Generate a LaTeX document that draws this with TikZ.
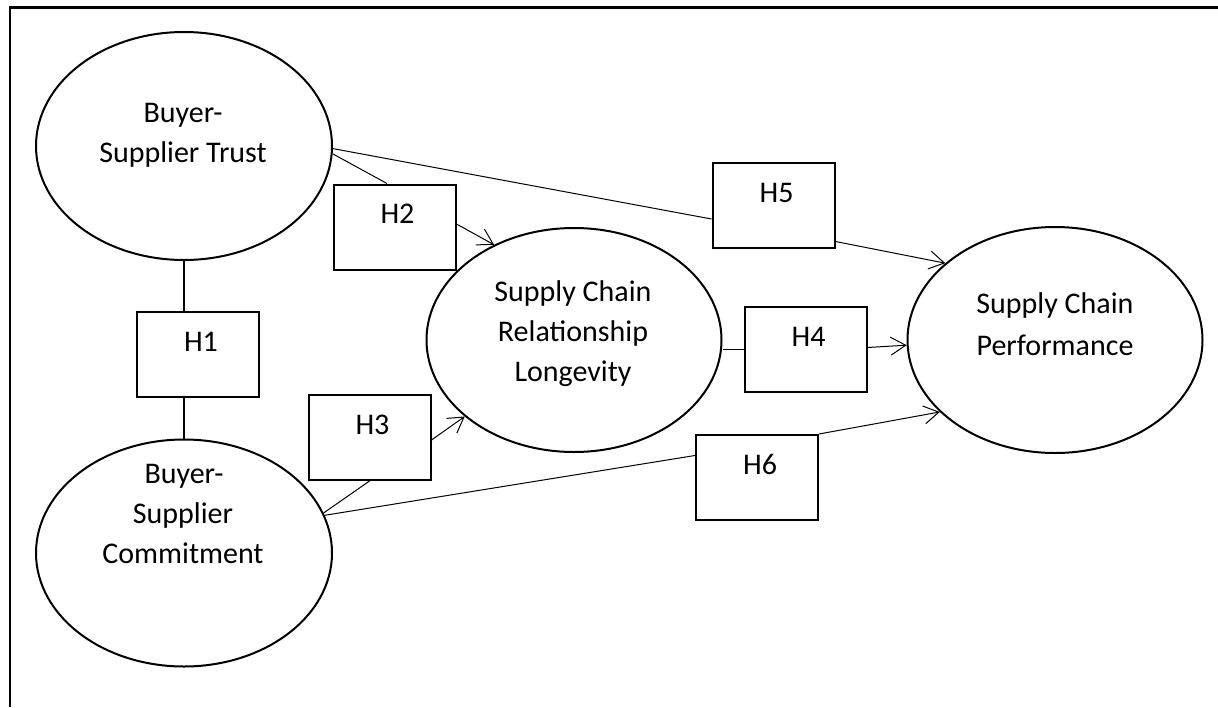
\documentclass[tikz,border=0pt]{standalone}
\usepackage{fontspec}
\setmainfont{Carlito}
\usetikzlibrary{shapes.geometric,arrows.meta,calc}
\begin{document}
\begin{tikzpicture}[x=1pt,y=-1pt,
  ell/.style={draw, ellipse, line width=2pt, inner sep=0pt},
  hbox/.style={draw, rectangle, line width=2pt, inner sep=0pt, minimum width=122pt,
    text height=39pt, text depth=46pt, font=\fontsize{30}{36}\selectfont},
  lbl/.style={anchor=base, inner sep=0pt, font=\fontsize{30}{36}\selectfont},
  conn/.style={line width=1pt},
  arr/.style={line width=1pt, -{Straight Barb[length=15pt,width=18pt]}},
  thickconn/.style={line width=2pt}]
\useasboundingbox (0,0) rectangle (1218,707);
% frame
\draw[line width=2.5pt] (10,707) -- (10,7.5) -- (1218,7.5);

% ellipses
\node[ell, minimum width=296pt, minimum height=228pt] (T) at (184,146) {};
\node[ell, minimum width=296pt, minimum height=227pt] (C) at (184,553) {};
\node[ell, minimum width=295pt, minimum height=224pt] (L) at (574,340) {};
\node[ell, minimum width=295pt, minimum height=226pt] (P) at (1055,340) {};

% ellipse texts
\node[lbl] (t1) at (183,122) {Buyer-};
\node[lbl] (t2) at (183,162) {Supplier Trust};
\node[lbl] (c1) at (184,483) {Buyer-};
\node[lbl] (c2) at (183,523) {Supplier};
\node[lbl] (c3) at (183,563) {Commitment};
\node[lbl] (l1) at (573,301) {Supply Chain};
\node[lbl] (l2) at (573,341) {Relationship};
\node[lbl] (l3) at (573,381) {Longevity};
\node[lbl] (p1) at (1055,313) {Supply Chain};
\node[lbl] (p2) at (1055,355) {Performance};

% hypothesis boxes
\node[hbox] (H1) at (198,354.5) {\hspace*{6pt}H1};
\node[hbox] (H2) at (394.5,227) {\hspace*{6pt}H2};
\node[hbox] (H3) at (369.5,437.5) {\hspace*{6pt}H3};
\node[hbox] (H4) at (805.5,349.5) {\hspace*{6pt}H4};
\node[hbox] (H5) at (773.5,205.5) {\hspace*{6pt}H5};
\node[hbox] (H6) at (757,477.5) {\hspace*{6pt}H6};

% H1
\draw[thickconn] (T.south) -- (T.south |- H1.north);
\draw[thickconn] (C.north) -- (C.north |- H1.south);

% H2
\draw[conn] (T.-3) -- ([xshift=-7.5pt]H2.north);
\draw[arr] ([yshift=3pt]H2.east) -- (L.130.4);

% H5
\draw[conn] (T.-1.5) -- ([yshift=-13.5pt]H5.west);
\draw[arr] ([yshift=-36pt]H5.east) -- (P.145.5);

% H4
\draw[conn] (H4.west -| L.east) -- (H4.west);
\draw[arr] ([yshift=2pt]H4.east) -- (P.182.9);

% H3
\draw[conn] (C.16) -- (H3.south);
\draw[arr] ([yshift=-2.5pt]H3.east) -- (L.215.8);

% H6
\draw[conn] (C.15.4) -- ([yshift=22pt]H6.west);
\draw[arr] (H6.north east) -- (P.212.3);
\end{tikzpicture}
\end{document}
